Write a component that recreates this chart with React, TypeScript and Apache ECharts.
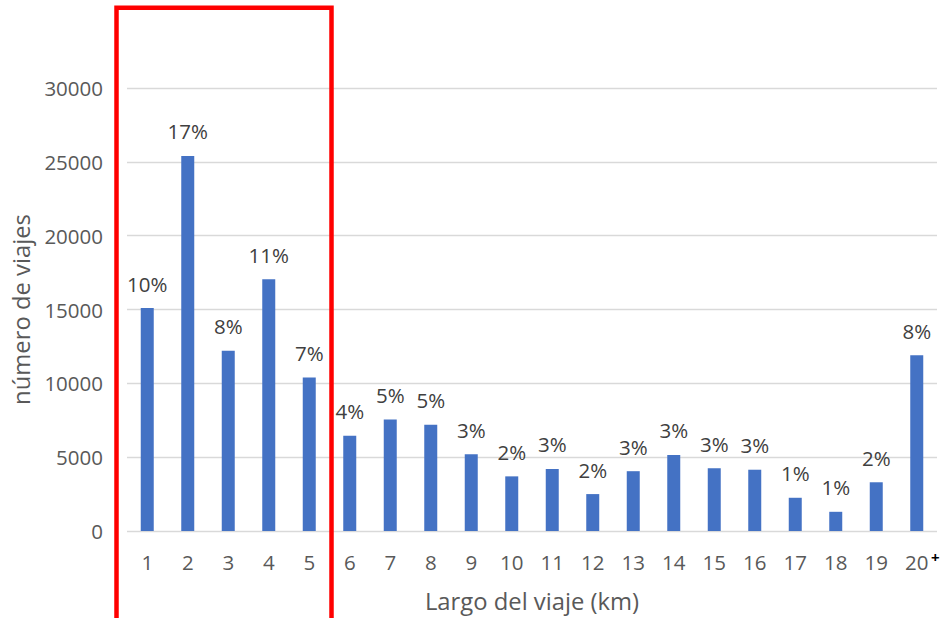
import React, { useEffect, useRef } from "react";
import * as echarts from "echarts";

// Trip length buckets (km) and number of trips in each
const categories = ["1", "2", "3", "4", "5", "6", "7", "8", "9", "10", "11", "12", "13", "14", "15", "16", "17", "18", "19", "20"];
const trips = [15100, 25400, 12200, 17050, 10400, 6450, 7550, 7200, 5200, 3700, 4200, 2500, 4050, 5150, 4250, 4150, 2250, 1300, 3300, 11900];
const yTicks = [0, 5000, 10000, 15000, 20000, 25000, 30000];

const FONT = "'Open Sans', Lato, sans-serif";

export default function App() {
  const ref = useRef<HTMLDivElement>(null);

  useEffect(() => {
    if (!ref.current) return;
    const chart = echarts.init(ref.current, null, { renderer: "svg" });
    const total = trips.reduce((a, b) => a + b, 0);

    chart.setOption({
      animation: false,
      textStyle: { fontFamily: FONT },
      grid: { left: 127, right: 4, top: 88, bottom: 87 },
      xAxis: {
        type: "category",
        data: categories,
        axisLine: { show: false },
        axisTick: { show: false },
        axisLabel: { color: "#595959", fontSize: 20.5, margin: 20, fontFamily: FONT },
        name: "Largo del viaje (km)",
        nameLocation: "middle",
        nameGap: 58,
        nameTextStyle: { color: "#595959", fontSize: 23.8, fontFamily: FONT },
      },
      yAxis: {
        type: "value",
        min: yTicks[0],
        max: yTicks[yTicks.length - 1],
        interval: yTicks[1] - yTicks[0],
        axisLine: { show: false },
        axisTick: { show: false },
        axisLabel: {
          color: "#595959",
          fontSize: 20.5,
          margin: 24,
          fontFamily: FONT,
          formatter: (v: number) => String(v),
        },
        splitLine: { lineStyle: { color: "#d9d9d9", width: 1.3 } },
        name: "número de viajes",
        nameLocation: "middle",
        nameGap: 93,
        nameTextStyle: { color: "#595959", fontSize: 23.8, fontFamily: FONT },
      },
      series: [
        {
          type: "bar",
          data: trips,
          barWidth: 13,
          itemStyle: { color: "#4472C4" },
          label: {
            show: true,
            position: "top",
            distance: 14,
            color: "#404040",
            fontSize: 20.5,
            fontFamily: FONT,
            formatter: (p: any) => Math.round((p.value / total) * 100) + "%",
          },
        },
      ],
      graphic: [
        {
          type: "text",
          left: 931,
          top: 549,
          style: { text: "+", fontSize: 15, fontWeight: "bold", fill: "#000", fontFamily: FONT },
        },
        {
          type: "rect",
          shape: { x: 116.5, y: 7.8, width: 215, height: 700 },
          style: { fill: "none", stroke: "#ff0000", lineWidth: 4.5 },
          z: 100,
        },
      ],
    });

    return () => chart.dispose();
  }, []);

  return (
    <div
      ref={ref}
      style={{ position: "fixed", left: 0, top: 0, width: 941, height: 618, background: "#fff" }}
    />
  );
}
